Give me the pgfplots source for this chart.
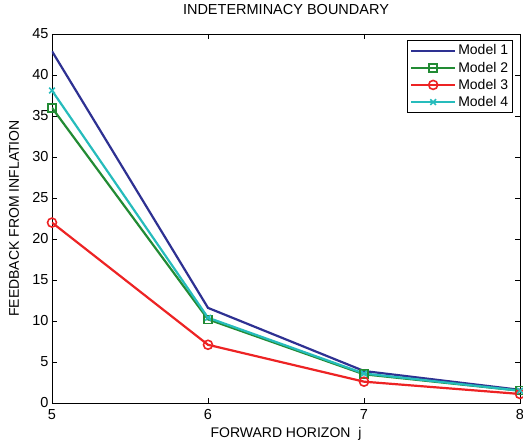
\documentclass[border=0pt]{standalone}
\usepackage{fontspec}
\setmainfont{Liberation Sans}
\usepackage{pgfplots}
\pgfplotsset{compat=1.18}

\definecolor{mblue}{RGB}{46,49,146}
\definecolor{mgreen}{RGB}{34,139,52}
\definecolor{mred}{RGB}{237,35,36}
\definecolor{mcyan}{RGB}{38,188,188}

\begin{document}
\begin{tikzpicture}[x=1pt,y=1pt]
\begin{axis}[
  scale only axis,
  width=468pt, height=369pt,
  xmin=5, xmax=8, ymin=0, ymax=45,
  xtick={5,6,7,8},
  ytick={0,5,...,45},
  tick align=inside,
  major tick length=5pt,
  tick style={black, thin},
  axis line style={black, line width=0.8pt},
  /pgf/number format/assume math mode=true,
  tick label style={font=\fontsize{14.5}{16}\selectfont},
  xticklabel style={yshift=-3pt},
  title={INDETERMINACY BOUNDARY},
  title style={font=\fontsize{14.5}{16}\selectfont,
    at={(axis description cs:0.5,1)}, anchor=center, yshift=18pt},
  xlabel={FORWARD HORIZON\ \ j},
  ylabel={FEEDBACK FROM INFLATION},
  label style={font=\fontsize{14}{16}\selectfont},
  xlabel style={at={(axis description cs:0.5,0)}, anchor=center, yshift=-31pt},
  ylabel style={at={(axis description cs:-0.081,0.5)}, anchor=center},
  legend style={at={(0.985,0.984)}, anchor=north east, draw=black, line width=0.8pt,
    font=\fontsize{14}{16}\selectfont, row sep=1.5pt, inner sep=2.5pt},
  legend cell align=left,
  legend image post style={line width=2.2pt},
  legend image code/.code={\draw[mark repeat=2,mark phase=2] plot coordinates {(0pt,0pt) (22pt,0pt) (44pt,0pt)};},
]
\addplot[mblue, line width=2.2pt, mark=none] coordinates {(5,42.9) (6,11.6) (7,3.9) (8,1.6)};
\addlegendentry{Model 1}
\addplot[mgreen, line width=2.2pt, mark=square, mark size=4pt, mark options={line width=1.6pt}] coordinates {(5,36.0) (6,10.2) (7,3.5) (8,1.5)};
\addlegendentry{Model 2}
\addplot[mred, line width=2.2pt, mark=o, mark size=4.5pt, mark options={line width=1.6pt}] coordinates {(5,22.0) (6,7.1) (7,2.6) (8,1.1)};
\addlegendentry{Model 3}
\addplot[mcyan, line width=2.2pt, mark=x, mark size=4pt, mark options={line width=1.6pt}] coordinates {(5,38.1) (6,10.4) (7,3.6) (8,1.5)};
\addlegendentry{Model 4}
\end{axis}
\pgfresetboundingbox
\useasboundingbox (-52,-43) rectangle (471,403);
\end{tikzpicture}
\end{document}
